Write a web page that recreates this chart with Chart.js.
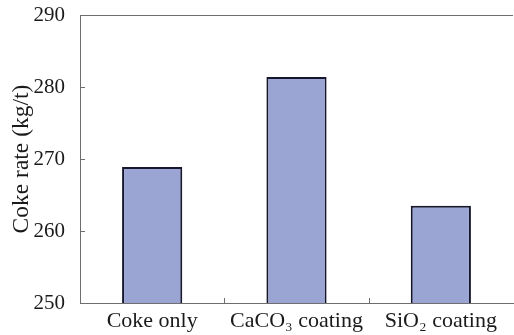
<!DOCTYPE html>
<html>
<head>
<meta charset="utf-8">
<script src="https://cdn.jsdelivr.net/npm/chart.js@4"></script>
<style>
  body { margin: 0; background: #fff; }
  #myChart { display: block; }
</style>
</head>
<body>
<canvas id="myChart" width="514" height="335"></canvas>
<script>
// data
const categories = ["Coke only", "CaCO\u2083 coating", "SiO\u2082 coating"];
const cokeRate = [268.9, 281.4, 263.5];
const yTicks = [250, 260, 270, 280, 290];

const axisColor = "#6e6e6e";
const serif = "'Liberation Serif', 'DejaVu Serif', serif";

// inward tick marks + top frame line
const frameTicks = {
  id: "frameTicks",
  afterDraw(chart) {
    const {
      ctx,
      chartArea: { top, bottom, left, right },
      scales: { x, y },
    } = chart;
    ctx.save();
    ctx.strokeStyle = axisColor;
    ctx.lineWidth = 1;
    ctx.beginPath();
    // top line
    ctx.moveTo(left, top + 0.5);
    ctx.lineTo(right, top + 0.5);
    // y ticks pointing in
    yTicks.forEach((v) => {
      const py = Math.round(y.getPixelForValue(v)) + 0.5;
      ctx.moveTo(left, py);
      ctx.lineTo(left + 5, py);
    });
    // x ticks between categories
    for (let i = 1; i < categories.length; i++) {
      const px = Math.round((x.getPixelForTick(i - 1) + x.getPixelForTick(i)) / 2) + 0.5;
      ctx.moveTo(px, bottom);
      ctx.lineTo(px, bottom - 5);
    }
    ctx.stroke();
    ctx.restore();
  },
};

const data = {
  labels: categories,
  datasets: [
    {
      label: "Coke rate",
      data: cokeRate,
      backgroundColor: "#9ba5d3",
      borderColor: "#16162c",
      borderWidth: 2,
      borderSkipped: false,
      barPercentage: 0.417,
      categoryPercentage: 1,
    },
  ],
};

const config = {
  type: "bar",
  data,
  options: {
    responsive: false,
    animation: false,
    layout: {
      padding: { top: 15, right: 1, bottom: 0, left: 0 },
    },
    plugins: {
      legend: { display: false },
      tooltip: { enabled: false },
    },
    scales: {
      x: {
        afterFit(scale) {
          scale.height = 32;
          scale.paddingLeft = 0;
          scale.paddingRight = 0;
        },
        grid: { display: false },
        border: { display: true, color: axisColor, width: 1 },
        ticks: {
          color: "#1a1a1a",
          padding: -1,
          font: { family: serif, size: 22, lineHeight: 1 },
        },
      },
      y: {
        min: 250,
        max: 290,
        afterFit(scale) {
          scale.width = 80;
          scale.paddingTop = 0;
          scale.paddingBottom = 0;
        },
        afterBuildTicks(scale) {
          scale.ticks = yTicks.map((v) => ({ value: v }));
        },
        grid: { display: false },
        border: { display: true, color: axisColor, width: 1 },
        ticks: {
          color: "#1a1a1a",
          padding: 7,
          font: { family: serif, size: 21, lineHeight: 1 },
        },
        title: {
          display: true,
          text: "Coke rate (kg/t)",
          color: "#1a1a1a",
          padding: { top: 8, bottom: 0 },
          font: { family: serif, size: 23.5 },
        },
      },
    },
  },
  plugins: [frameTicks],
};

const chartInstance = new Chart(document.getElementById("myChart"), config);
</script>
</body>
</html>
